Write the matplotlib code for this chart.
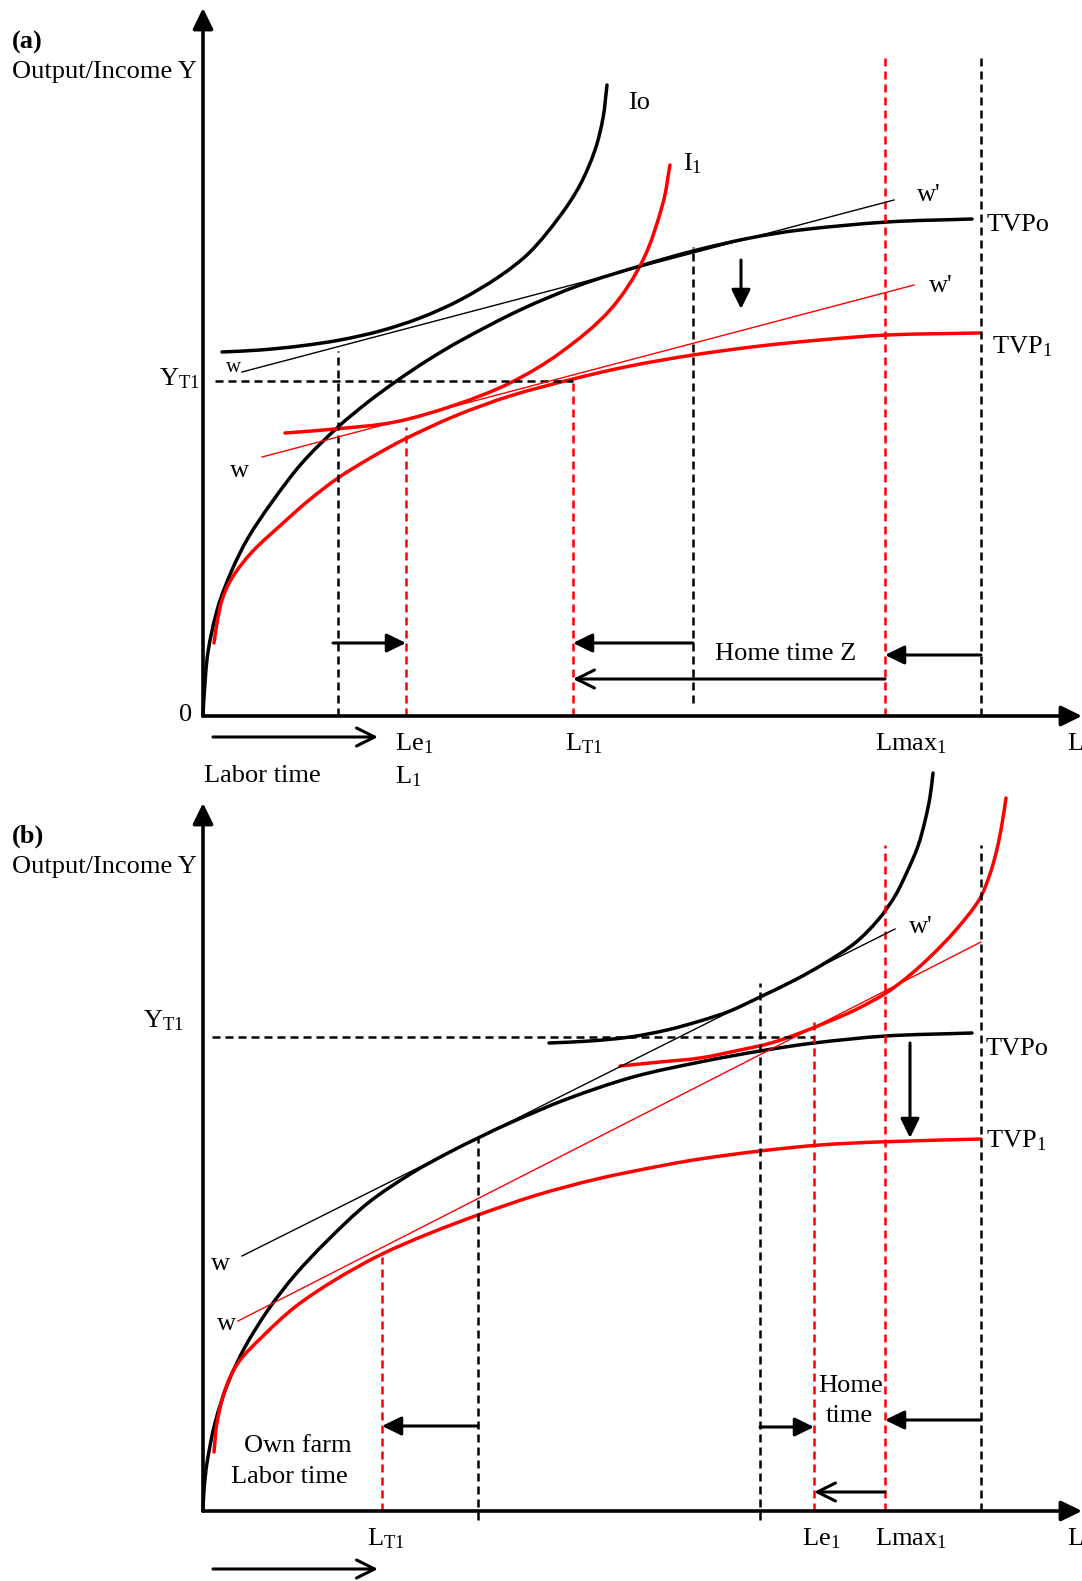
import matplotlib
matplotlib.use("Agg")
import numpy as np
import matplotlib.pyplot as plt
from matplotlib.path import Path
from matplotlib.patches import PathPatch

plt.rcParams['font.family'] = ['Liberation Serif', 'DejaVu Serif']
plt.rcParams['mathtext.fontset'] = 'custom'
plt.rcParams['mathtext.rm'] = 'Liberation Serif'
plt.rcParams['mathtext.it'] = 'Liberation Serif:italic'
plt.rcParams['mathtext.bf'] = 'Liberation Serif:bold'

W, H = 1082, 1581
RED = '#ff0000'

# ---------------- Panel (a) data (L = labour time, Y = output/income) ----------------
io_a_L = [19, 57, 97, 137, 177, 217, 257, 297, 327, 357, 377, 392, 400, 404]
io_a_Y = [364, 366, 370, 376, 385, 398, 416, 440, 464, 500, 531, 566, 598, 631]

tvp0_a_L = [0, 1, 5, 15, 29, 45, 69, 99, 135, 165, 195, 225, 257, 317, 377, 437, 490, 547, 597, 684, 769]
tvp0_a_Y = [0, 19, 64, 109, 146, 178, 214, 253, 289, 314, 336, 356, 375, 406, 431, 450, 465, 478, 486, 494, 497]

tvp1_a_L = [11, 14, 19, 29, 49, 79, 105, 135, 169, 202, 252, 307, 370, 427, 490, 557, 617, 684, 777]
tvp1_a_Y = [73, 93, 116, 138, 164, 192, 215, 238, 259, 277, 300, 320, 337, 350, 361, 370, 376, 381, 383]

i1_a_L = [82, 132, 192, 252, 307, 357, 407, 440, 460, 467]
i1_a_Y = [283, 287, 294, 311, 333, 363, 406, 456, 513, 551]

wage0_a_L = [39, 691]
wage0_a_Y = [344, 516]
wage1_a_L = [59, 711]
wage1_a_Y = [259, 431]

yt1_a = 335
black_vlines_a = [(135, 365, 0), (490, 469, 13), (778, 661, 0)]   # (L, top Y, bottom Y)
red_vlines_a = [(203, 289, 0), (370, 336, 0), (682, 661, 0)]

# ---------------- Panel (b) data ----------------
io_b_L = [346, 387, 427, 464, 497, 527, 557, 592, 622, 652, 675, 692, 704, 715, 722, 727, 730]
io_b_Y = [468, 470, 474, 481, 490, 500, 514, 531, 548, 568, 591, 615, 639, 665, 690, 714, 738]

tvp0_b_L = [0, 1, 4, 12, 25, 42, 65, 92, 125, 165, 209, 245, 275, 309, 364, 430, 497, 557, 611, 683, 769]
tvp0_b_Y = [0, 21, 48, 88, 128, 164, 201, 236, 271, 308, 338, 358, 373, 389, 412, 434, 449, 460, 468, 475, 478]

tvp1_b_L = [11, 14, 22, 35, 59, 92, 132, 177, 225, 275, 334, 394, 457, 497, 557, 617, 675, 778]
tvp1_b_Y = [59, 88, 121, 148, 174, 204, 231, 256, 277, 296, 316, 332, 345, 352, 360, 366, 369, 372]

i1_b_L = [417, 457, 497, 537, 568, 597, 622, 652, 683, 707, 729, 752, 776, 787, 794, 799, 803]
i1_b_Y = [445, 449, 453, 461, 468, 478, 488, 501, 518, 536, 556, 580, 611, 637, 662, 687, 713]

wage0_b_L = [39, 692]
wage0_b_Y = [255, 582]
wage1_b_L = [35, 778]
wage1_b_Y = [190, 569]

yt1_b = 474
black_vlines_b = [(275, 373, -9), (557, 528, -9), (778, 666, 0)]
red_vlines_b = [(179, 254, 0), (611, 493, 0), (682, 666, 0)]

# ---------------- styles ----------------
THICK = 2.5
THIN = 1.0
DASH_LW = 1.8
DASH = (0, (3.2, 2.0))
FS = 19

fig = plt.figure(figsize=(W / 100, H / 100), dpi=100)


def make_ax(ox, oy):
    ax = fig.add_axes([0, 0, 1, 1])
    ax.set_xlim(-ox, W - ox)
    ax.set_ylim(oy - H, oy)
    ax.axis('off')
    ax.patch.set_alpha(0)
    return ax


def smooth_curve(ax, xs, ys, color, lw=THICK):
    """Draw a smooth Bezier curve passing through the read points."""
    p = np.column_stack([xs, ys]).astype(float)
    n = len(p)
    tang = []
    for i in range(n):
        a = p[max(i - 1, 0)]
        b = p[min(i + 1, n - 1)]
        d = b - a
        tang.append(d / (np.hypot(*d) + 1e-9))
    verts = [p[0]]
    codes = [Path.MOVETO]
    for i in range(n - 1):
        seg = np.hypot(*(p[i + 1] - p[i]))
        c1 = p[i] + tang[i] * seg / 3
        c2 = p[i + 1] - tang[i + 1] * seg / 3
        verts += [c1, c2, p[i + 1]]
        codes += [Path.CURVE4] * 3
    patch = PathPatch(Path(verts, codes), facecolor='none', edgecolor=color,
                      lw=lw, capstyle='round', joinstyle='round')
    ax.add_patch(patch)


def arrow(ax, start, end, filled=True, lw=2.2, ms=26):
    style = '-|>,head_length=0.45,head_width=0.22' if filled else '->,head_length=0.5,head_width=0.25'
    ax.annotate('', xy=end, xytext=start,
                arrowprops=dict(arrowstyle=style, mutation_scale=ms, lw=lw,
                                color='k', shrinkA=0, shrinkB=0))


def axes_lines(ax, ytop, xright):
    arrow(ax, (0, 0), (0, ytop), lw=2.6, ms=28)
    arrow(ax, (0, 0), (xright, 0), lw=2.6, ms=28)


def txt(ax, x, y, s, ha='left', size=FS, **kw):
    ax.text(x, y, s, ha=ha, va='baseline', fontsize=size, color='k', **kw)


# ================= Panel (a) =================
axa = make_ax(203, 716)
axes_lines(axa, 708, 879)

for L, top, bot in black_vlines_a:
    axa.plot([L, L], [bot, top], color='k', lw=DASH_LW, ls=DASH)
for L, top, bot in red_vlines_a:
    axa.plot([L, L], [bot, top], color=RED, lw=DASH_LW, ls=DASH)
axa.plot([12, 370], [yt1_a, yt1_a], color='k', lw=DASH_LW, ls=DASH)

axa.plot(wage0_a_L, wage0_a_Y, color='k', lw=THIN)
axa.plot(wage1_a_L, wage1_a_Y, color=RED, lw=THIN)
smooth_curve(axa, io_a_L, io_a_Y, 'k')
smooth_curve(axa, tvp0_a_L, tvp0_a_Y, 'k')
smooth_curve(axa, tvp1_a_L, tvp1_a_Y, RED)
smooth_curve(axa, i1_a_L, i1_a_Y, RED)

arrow(axa, (130, 73), (203, 73))
arrow(axa, (490, 73), (370, 73))
arrow(axa, (778, 61), (682, 61))
arrow(axa, (682, 37), (370, 37), filled=False)
arrow(axa, (10, -21), (175, -21), filled=False)
arrow(axa, (538, 456), (538, 407))

txt(axa, -191, 667, '(a)', weight='bold')
txt(axa, -191, 638, 'Output/Income Y')
txt(axa, -11, -5, '0', ha='right')
txt(axa, 425, 607, 'Io')
txt(axa, 480, 546, r'I$_{\mathrm{1}}$')
txt(axa, 714, 515, "w'")
txt(axa, 784, 485, 'TVPo')
txt(axa, 726, 424, "w'")
txt(axa, 789, 363, r'TVP$_{\mathrm{1}}$')
txt(axa, 31, 344, 'w', ha='center', size=15)
txt(axa, 36, 239, 'w', ha='center')
txt(axa, -3, 331, r'Y$_{\mathrm{T1}}$', ha='right')
txt(axa, 583, 56, 'Home time Z', ha='center')
txt(axa, 192, -34, r'Le$_{\mathrm{1}}$')
txt(axa, 192, -67, r'L$_{\mathrm{1}}$')
txt(axa, 362, -34, r'L$_{\mathrm{T1}}$')
txt(axa, 672, -34, r'Lmax$_{\mathrm{1}}$')
txt(axa, 864, -34, 'L')
txt(axa, 1, -66, 'Labor time')

# ================= Panel (b) =================
axb = make_ax(203, 1511)
axes_lines(axb, 708, 879)

for L, top, bot in black_vlines_b:
    axb.plot([L, L], [bot, top], color='k', lw=DASH_LW, ls=DASH)
for L, top, bot in red_vlines_b:
    axb.plot([L, L], [bot, top], color=RED, lw=DASH_LW, ls=DASH)
axb.plot([9, 611], [yt1_b, yt1_b], color='k', lw=DASH_LW, ls=DASH)

axb.plot(wage0_b_L, wage0_b_Y, color='k', lw=THIN)
axb.plot(wage1_b_L, wage1_b_Y, color=RED, lw=THIN)
smooth_curve(axb, io_b_L, io_b_Y, 'k')
smooth_curve(axb, tvp0_b_L, tvp0_b_Y, 'k')
smooth_curve(axb, tvp1_b_L, tvp1_b_Y, RED)
smooth_curve(axb, i1_b_L, i1_b_Y, RED)

arrow(axb, (275, 85), (179, 85))
arrow(axb, (557, 84), (611, 84))
arrow(axb, (778, 91), (682, 91))
arrow(axb, (682, 19), (611, 19), filled=False)
arrow(axb, (10, -58), (175, -58), filled=False)
arrow(axb, (707, 468), (707, 373))

txt(axb, -191, 668, '(b)', weight='bold')
txt(axb, -191, 638, 'Output/Income Y')
txt(axb, -19, 484, r'Y$_{\mathrm{T1}}$', ha='right')
txt(axb, 706, 578, "w'")
txt(axb, 783, 456, 'TVPo')
txt(axb, 783, 364, r'TVP$_{\mathrm{1}}$')
txt(axb, 17, 241, 'w', ha='center')
txt(axb, 23, 181, 'w', ha='center')
txt(axb, 648, 119, 'Home', ha='center')
txt(axb, 646, 89, 'time', ha='center')
txt(axb, 95, 59, 'Own farm', ha='center')
txt(axb, 86, 28, 'Labor time', ha='center')
txt(axb, 164, -34, r'L$_{\mathrm{T1}}$')
txt(axb, 599, -34, r'Le$_{\mathrm{1}}$')
txt(axb, 672, -34, r'Lmax$_{\mathrm{1}}$')
txt(axb, 864, -34, 'L')

fig.savefig('out.png', dpi=100, facecolor='white')
